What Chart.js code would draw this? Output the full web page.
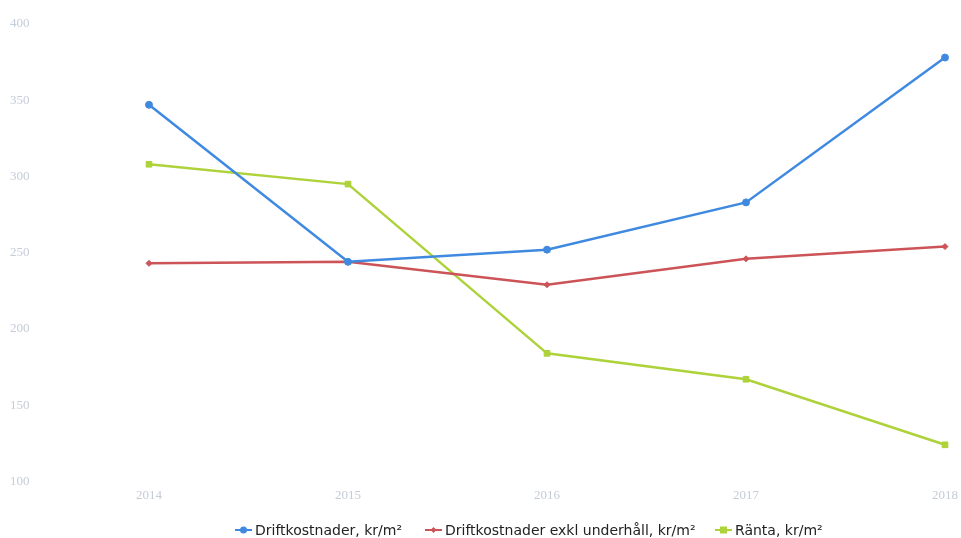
<!DOCTYPE html>
<html>
<head>
<meta charset="utf-8">
<script src="https://cdn.jsdelivr.net/npm/chart.js@4.4.0/dist/chart.umd.min.js"></script>
<style>
  html, body { margin: 0; padding: 0; background: #fff; }
  #wrap { position: relative; width: 961px; height: 538px; }
  #legend { position: absolute; left: 0; top: 522px; width: 961px; height: 17px;
            font-family: 'DejaVu Sans', sans-serif; font-size: 14px; color: #222; }
  #legend .item { position: absolute; top: 0; display: flex; align-items: center; white-space: nowrap; }
  #legend canvas { margin-right: 3px; }
</style>
</head>
<body>
<div id="wrap"><canvas id="chart"></canvas><div id="legend"></div></div>
<script>
const years = ['2014', '2015', '2016', '2017', '2018'];
const drift = [347, 244, 252, 283, 378];
const driftExkl = [243, 244, 229, 246, 254];
const ranta = [308, 295, 184, 167, 124];
const yTicks = [100, 150, 200, 250, 300, 350, 400];

const blue = '#3f8ae0';
const red = '#cc5357';
const green = '#aed23a';

// small legend icon: line with the marker in the middle
const legendIcon = (color, shape) => {
    const c = document.createElement('canvas');
    c.width = 17; c.height = 10;
    const ctx = c.getContext('2d');
    ctx.strokeStyle = color;
    ctx.fillStyle = color;
    ctx.lineWidth = 2;
    ctx.beginPath(); ctx.moveTo(0, 5); ctx.lineTo(17, 5); ctx.stroke();
    ctx.beginPath();
    if (shape === 'circle') ctx.arc(8.5, 5, 3.5, 0, Math.PI * 2);
    else if (shape === 'diamond') { ctx.moveTo(8.5, 2); ctx.lineTo(11.5, 5); ctx.lineTo(8.5, 8); ctx.lineTo(5.5, 5); ctx.closePath(); }
    else ctx.rect(5, 1.5, 7, 7);
    ctx.fill();
    return c;
};

const chart = new Chart(document.getElementById('chart'), {
    type: 'line',
    data: {
        labels: years,
        datasets: [
            { label: 'Driftkostnader, kr/m²', data: drift, borderColor: blue, backgroundColor: blue,
              borderWidth: 2.5, pointStyle: 'circle', pointRadius: 3.5, pointBorderWidth: 1, tension: 0 },
            { label: 'Driftkostnader exkl underhåll, kr/m²', data: driftExkl, borderColor: red, backgroundColor: red,
              borderWidth: 2.5, pointStyle: 'rectRot', pointRadius: 3, pointBorderWidth: 1, tension: 0 },
            { label: 'Ränta, kr/m²', data: ranta, borderColor: green, backgroundColor: green,
              borderWidth: 2.5, pointStyle: 'rect', pointRadius: 4, pointBorderWidth: 1, tension: 0 }
        ]
    },
    options: {
        responsive: true,
        maintainAspectRatio: false,
        animation: false,
        layout: { padding: { top: 24, right: 16, left: 10, bottom: 37 } },
        plugins: {
            tooltip: { enabled: false },
            legend: { display: false }
        },
        scales: {
            x: {
                offset: false,
                grid: { display: false },
                border: { display: false },
                ticks: { color: '#c4ccd8', font: { family: 'Liberation Serif, serif', size: 13 }, padding: -2 }
            },
            y: {
                min: 100,
                max: 400,
                grid: { display: false },
                border: { display: false },
                afterFit: (axis) => { axis.width = 139; },
                afterBuildTicks: (axis) => { axis.ticks = yTicks.map(v => ({ value: v })); },
                ticks: {
                    color: '#c4ccd8',
                    font: { family: 'Liberation Serif, serif', size: 13 },
                    crossAlign: 'far',
                    padding: 10
                }
            }
        }
    }
});

// legend as html below the plot, items placed where the reference has them
const shapes = ['circle', 'diamond', 'rect'];
const itemLeft = [235, 425, 715];
const legend = document.getElementById('legend');
chart.data.datasets.forEach((ds, i) => {
    const item = document.createElement('div');
    item.className = 'item';
    item.style.left = itemLeft[i] + 'px';
    item.appendChild(legendIcon(ds.borderColor, shapes[i]));
    const span = document.createElement('span');
    span.textContent = ds.label;
    item.appendChild(span);
    legend.appendChild(item);
});
</script>
</body>
</html>
